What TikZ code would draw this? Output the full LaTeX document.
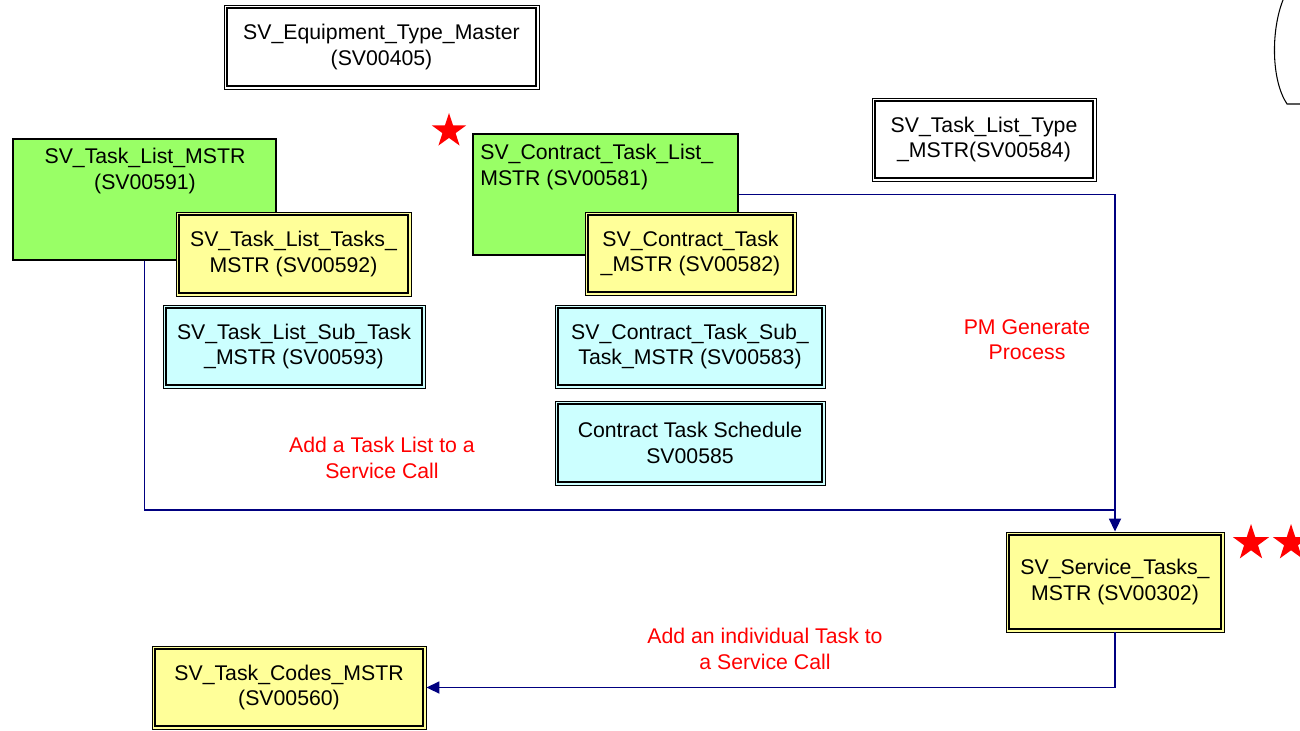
\documentclass[tikz,border=0pt]{standalone}
\usepackage{fontspec}
\setmainfont{Liberation Sans}
\usetikzlibrary{fit,arrows.meta,shapes.geometric}
\definecolor{gfill}{HTML}{99FF66}
\definecolor{yfill}{HTML}{FFFF99}
\definecolor{cfill}{HTML}{CCFFFF}
\definecolor{navy}{HTML}{000080}
\begin{document}
\begin{tikzpicture}[x=0.02cm,y=-0.02cm,
  every node/.style={font=\fontsize{12.1}{14.4}\selectfont},
  box/.style={draw=black, line width=0.5pt, inner sep=0pt},
  gbox/.style={box, fill=gfill, line width=0.8pt},
  ybox/.style={box, fill=yfill},
  cbox/.style={box, fill=cfill},
  wbox/.style={box, fill=white},
  inner/.style={draw=black, line width=1pt},
  txt/.style={align=center, inner sep=0pt},
  conn/.style={draw=navy, line width=1pt},
  tip/.style={-{Triangle[length=0.26cm,width=0.24cm]}},
  lbl/.style={text=red, align=center, inner sep=0pt},
  redstar/.style={star, star points=5, star point ratio=2.6, fill=red, draw=none, inner sep=0pt}]
\useasboundingbox (0,0) rectangle (1300,730);
% boxes
\node[wbox, fit={(224,5)(539,89)}] (eq) {};
\node[gbox, fit={(13,139)(276,260)}] (tl) {};
\node[ybox, fit={(176,212)(411,296)}] (tlt) {};
\node[cbox, fit={(163,305)(425,388)}] (tls) {};
\node[gbox, fit={(473,134)(738,255)}] (ctl) {};
\node[ybox, fit={(585,212)(796,295)}] (ct) {};
\node[cbox, fit={(555,305)(825,388)}] (cts) {};
\node[cbox, fit={(555,401)(825,485)}] (csch) {};
\node[wbox, fit={(872,98)(1096,181)}] (tlty) {};
\node[ybox, fit={(1006,532)(1224,632)}] (st) {};
\node[ybox, fit={(152,646)(426,729)}] (tc) {};
% inner borders
\foreach \n in {eq,tlt,tls,ct,cts,csch,tlty,st,tc}
  \draw[inner] ([shift={(0.075cm,0.075cm)}]\n.south west) rectangle ([shift={(-0.075cm,-0.075cm)}]\n.north east);
% texts
\node[txt] at (eq.center) (eqt) {SV\_Equipment\_Type\_Master\\(SV00405)};
\node[txt] at (145,171) (tlx) {SV\_Task\_List\_MSTR\\(SV00591)};
\node[txt] at (tlt.center) (tltt) {SV\_Task\_List\_Tasks\_\\MSTR (SV00592)};
\node[txt] at (tls.center) (tlst) {SV\_Task\_List\_Sub\_Task\\\_MSTR (SV00593)};
\node[txt, align=left, anchor=west] at (480,167) (ctlx) {SV\_Contract\_Task\_List\_\\MSTR (SV00581)};
\node[txt] at (ct.center) (ctt) {SV\_Contract\_Task\\\_MSTR (SV00582)};
\node[txt] at (cts.center) (ctst) {SV\_Contract\_Task\_Sub\_\\Task\_MSTR (SV00583)};
\node[txt] at (csch.center) (cscht) {Contract Task Schedule\\SV00585};
\node[txt] at (tlty.center) (tltyt) {SV\_Task\_List\_Type\\\_MSTR(SV00584)};
\node[txt] at (st.center) (stt) {SV\_Service\_Tasks\_\\MSTR (SV00302)};
\node[txt] at (tc.center) (tct) {SV\_Task\_Codes\_MSTR\\(SV00560)};
% connectors
\coordinate (j) at (1115,510);
\draw[conn] (tl.south) |- (j);
\draw[conn,tip] (ctl.east) -| (st.north);
\draw[conn,tip] (st.south) |- (tc.east);
% labels
\node[lbl] at (1027,340) (l1) {PM Generate\\Process};
\node[lbl] at (382,458) (l2) {Add a Task List to a\\Service Call};
\node[lbl] at (765,649) (l3) {Add an individual Task to\\a Service Call};
% stars
\node[redstar, minimum size=0.72cm] at (449,131) (s1) {};
\node[redstar, minimum size=0.76cm] at (1251,543) (s2) {};
\node[redstar, minimum size=0.76cm] at (1291,543) (s3) {};
% partial oval top right
\draw[line width=0.6pt] (1283,0) .. controls (1271,30) and (1271,80) .. (1287,104) -- (1300,104);
\end{tikzpicture}
\end{document}
